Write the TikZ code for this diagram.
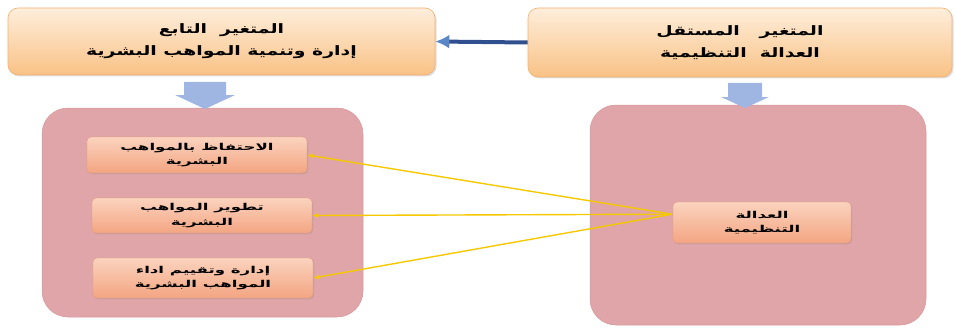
\documentclass[tikz,border=0pt]{standalone}
\usepackage{fontspec}
\newfontfamily\arabicfont[Script=Arabic,FakeStretch=1.45]{DejaVu Sans}
\newfontfamily\arabicwide[Script=Arabic,FakeStretch=1.75]{DejaVu Sans}
\TeXXeTstate=1
\usetikzlibrary{arrows.meta,shadows}
\newcommand{\artxt}[1]{\beginR #1\endR}
\definecolor{topA}{HTML}{FEEEDB}
\definecolor{topB}{HTML}{F9C286}
\definecolor{topD}{HTML}{F3B072}
\definecolor{bigF}{HTML}{DFA5A8}
\definecolor{bigD}{HTML}{D99498}
\definecolor{inA}{HTML}{FBD3BE}
\definecolor{inB}{HTML}{F3A582}
\definecolor{inD}{HTML}{E69A7E}
\definecolor{blueL}{HTML}{2F4F8F}
\definecolor{blueH}{HTML}{5B86C5}
\definecolor{downA}{HTML}{9FB6E2}
\definecolor{yel}{HTML}{F5C800}
\tikzset{
  topbox/.style={draw=topD, line width=0.6pt, rounded corners=10pt, top color=topA, bottom color=topB,
    align=center, font=\arabicfont\bfseries\fontsize{13}{22}\selectfont, inner sep=0pt,
    drop shadow={opacity=0.25, shadow xshift=1.5pt, shadow yshift=-1.5pt}},
  bigbox/.style={draw=bigD, line width=0.5pt, fill=bigF, rounded corners=26pt, inner sep=0pt},
  inbox/.style={draw=inD, line width=0.4pt, rounded corners=4pt, top color=inA, bottom color=inB,
    align=center, font=\arabicwide\bfseries\fontsize{9.5}{14.5}\selectfont, inner sep=0pt,
    drop shadow={opacity=0.25, shadow xshift=1pt, shadow yshift=-1pt}},
  downarrow/.style={fill=downA, draw=none},
  yline/.style={draw=yel, line width=1.4pt, -{Latex[length=6pt,width=5pt]}},
}
\begin{document}
\begin{tikzpicture}[x=1pt,y=-1pt]
\useasboundingbox (0,0) rectangle (956,329);
% top boxes
\node[topbox, minimum width=427pt, minimum height=67pt] (tl) at (221.5,41.5)
  {\artxt{المتغير \ التابع}\\\artxt{إدارة وتنمية المواهب البشرية}};
\node[topbox, minimum width=424pt, minimum height=69pt] (tr) at (740,42.5)
  {\artxt{المتغير \ \ المستقل}\\\artxt{العدالة \ التنظيمية}};
% blue arrow
\draw[draw=blueL, line width=4pt, -{Latex[length=14pt,width=14pt,color=blueH]}] (tr.west) -- (tl.east);
% big boxes
\node[bigbox, minimum width=321pt, minimum height=209pt] (bl) at (202.5,212.5) {};
\node[bigbox, minimum width=336pt, minimum height=220pt] (br) at (758,215) {};
% down arrows
\path[downarrow] (184,82) -- (226,82) -- (226,95) -- (235,95) -- (205,109) -- (175,95) -- (184,95) -- cycle;
\path[downarrow] (728,83) -- (762,83) -- (762,97) -- (769,97) -- (745,108) -- (721,97) -- (728,97) -- cycle;
% inner boxes
\node[inbox, minimum width=220pt, minimum height=36pt] (i1) at (197,155)
  {\artxt{الاحتفاظ بالمواهب}\\\artxt{البشرية}};
\node[inbox, minimum width=220pt, minimum height=35pt] (i2) at (202,215.5)
  {\artxt{تطوير المواهب}\\\artxt{البشرية}};
\node[inbox, minimum width=220pt, minimum height=40pt] (i3) at (203,278)
  {\artxt{إدارة وتقييم اداء}\\\artxt{المواهب البشرية}};
\node[inbox, minimum width=178pt, minimum height=41pt] (ri) at (762,222.5)
  {\artxt{العدالة}\\\artxt{التنظيمية}};
% yellow connectors
\coordinate (rj) at (672,214.2);
\draw[yline] (rj) -- (i1.east);
\draw[yline] (rj) -- (i2.east);
\draw[yline] (rj) -- (i3.east);
\end{tikzpicture}
\end{document}
